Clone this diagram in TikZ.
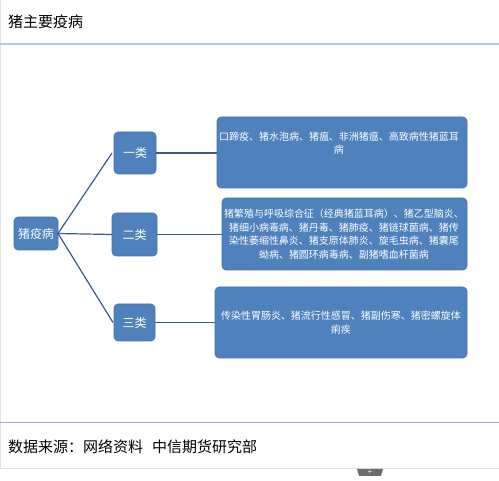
\documentclass[tikz,border=0pt]{standalone}
\usepackage{fontspec}
\setmainfont{Noto Sans CJK SC}
\newfontfamily\cjk{Noto Sans CJK SC}
\definecolor{boxblue}{HTML}{4F81BD}
\definecolor{boxedge}{HTML}{4674AC}
\definecolor{linkblue}{HTML}{3B5A8C}
\definecolor{topline}{HTML}{B8C8DC}
\definecolor{botline}{HTML}{9BB5D0}
\definecolor{frame}{HTML}{E2E2E2}
\tikzset{
  catbox/.style={draw=boxedge, fill=boxblue, rounded corners=4pt, line width=0.6pt},
  wtext/.style={text=white, font=\cjk\fontsize{12}{14}\selectfont, inner sep=0pt},
  desc/.style={text=white, font=\cjk\fontsize{10}{13.5}\selectfont, inner sep=0pt, align=center},
  link/.style={draw=linkblue, line width=1.2pt}
}
\begin{document}
\begin{tikzpicture}[x=1pt,y=-1pt]
\useasboundingbox (0,0) rectangle (499,481);
\fill[white] (0,0) rectangle (499,481);
% frame
\draw[frame, line width=0.8pt] (0.5,0) -- (0.5,469);
\draw[frame, line width=1pt] (0,469) -- (499,469);
\draw[topline, line width=2.2pt] (0,44) -- (499,44);
\draw[botline, line width=1.2pt] (0,422.5) -- (499,422.5);
% tab
\fill[gray!85!black] (357,469) -- (383,469) -- (381,476) -- (359,476) -- cycle;
\node[text=white, font=\sffamily\bfseries\fontsize{6}{6}\selectfont, inner sep=0pt] (tabplus) at (370,472.5) {+};
% title and footer
\node[anchor=west, font=\cjk\fontsize{15}{17}\selectfont, inner sep=0pt] (title) at (8,21.5) {猪主要疫病};
\node[anchor=west, font=\cjk\fontsize{15}{17}\selectfont, inner sep=0pt] (foot) at (8,447) {数据来源：网络资料\hspace{0.6em}中信期货研究部};
% boxes
\path[catbox] (14,217) rectangle (58,250);
\node[wtext] (root) at (36,233.5) {猪疫病};
\path[catbox] (114,132) rectangle (156,174);
\node[wtext] (c1) at (135,153) {一类};
\path[catbox] (112,213) rectangle (157,256);
\node[wtext] (c2) at (134.5,234.5) {二类};
\path[catbox] (114,304) rectangle (155,341);
\node[wtext] (c3) at (134.5,322.5) {三类};
\coordinate (rootE) at (58,233.5);
\coordinate (c1W) at (112,153);
\coordinate (c2W) at (112,234.5);
\coordinate (c3W) at (113,322.5);
\coordinate (c1E) at (156,153);
\coordinate (c2E) at (157,234.5);
\coordinate (c3E) at (155,322.5);
\path[catbox] (217,117) rectangle (467,188);
\path[catbox] (222,198) rectangle (467,270);
\path[catbox] (215,287) rectangle (467,358);
\coordinate (d1W) at (217,153);
\coordinate (d2W) at (222,234.5);
\coordinate (d3W) at (215,322.5);
\node[desc] (d1) at (339,143) {口蹄疫、猪水泡病、猪瘟、非洲猪瘟、高致病性猪蓝耳\\病};
\node[desc] (d2) at (344,234) {猪繁殖与呼吸综合征（经典猪蓝耳病）、猪乙型脑炎、\\猪细小病毒病、猪丹毒、猪肺疫、猪链球菌病、猪传\\染性萎缩性鼻炎、猪支原体肺炎、旋毛虫病、猪囊尾\\蚴病、猪圆环病毒病、副猪嗜血杆菌病};
\node[desc] (d3) at (341,322.5) {传染性胃肠炎、猪流行性感冒、猪副伤寒、猪密螺旋体\\痢疾};
% connectors
\draw[link] (rootE) -- (c1W);
\draw[link] (rootE) -- (c2W);
\draw[link] (rootE) -- (c3W);
\draw[link] (c1E) -- (d1W);
\draw[link] (c2E) -- (d2W);
\draw[link] (c3E) -- (d3W);
\end{tikzpicture}
\end{document}
